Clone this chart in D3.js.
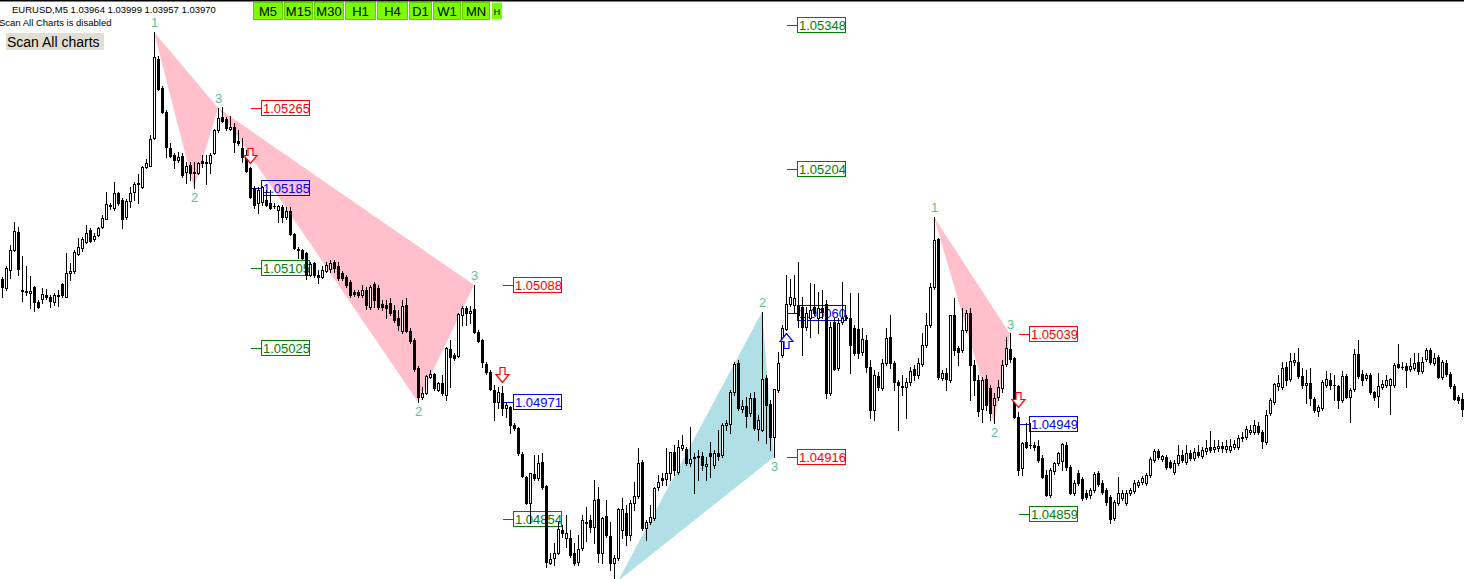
<!DOCTYPE html>
<html>
<head>
<meta charset="utf-8">
<script src="https://cdn.jsdelivr.net/npm/d3@7"></script>
<style>
  html, body { margin: 0; padding: 0; background: #fff; overflow: hidden; }
  svg { display: block; font-family: "Liberation Sans", Arial, sans-serif; }
</style>
</head>
<body>
<script>
// EURUSD M5 candles, one row per bar: [open, high, low, close]
// values are points above 1.00000 (5094 -> 1.05094)
const ohlc = [
[5094,5096,5076,5086],[5085,5107,5083,5105],[5103,5128,5095,5123],[5123,5151,5122,5142],[5141,5146,5098,5104],
[5083,5117,5072,5082],[5082,5107,5078,5081],[5080,5097,5065,5082],[5086,5087,5062,5071],[5071,5073,5065,5066],
[5074,5085,5070,5079],[5078,5084,5074,5076],[5076,5078,5066,5072],[5071,5080,5068,5078],[5078,5083,5067,5077],
[5089,5090,5076,5078],[5076,5120,5076,5100],[5100,5110,5093,5102],[5102,5123,5100,5121],[5119,5135,5118,5126],
[5125,5136,5122,5134],[5131,5148,5130,5140],[5143,5145,5131,5132],[5134,5140,5132,5137],[5138,5146,5137,5145],
[5146,5158,5145,5155],[5154,5181,5154,5169],[5168,5170,5164,5167],[5165,5191,5163,5180],[5180,5181,5168,5170],
[5173,5175,5145,5154],[5156,5174,5154,5172],[5172,5186,5166,5180],[5181,5191,5173,5189],[5189,5199,5170,5190],
[5186,5207,5185,5206],[5206,5214,5205,5210],[5207,5238,5207,5234],[5235,5341,5234,5316],[5314,5317,5283,5284],
[5285,5287,5260,5261],[5261,5263,5216,5226],[5225,5230,5216,5217],[5218,5220,5205,5213],[5213,5221,5211,5216],
[5217,5220,5196,5198],[5201,5211,5190,5207],[5208,5211,5193,5200],[5201,5211,5185,5200],[5200,5211,5199,5210],
[5212,5218,5206,5210],[5210,5218,5189,5211],[5210,5220,5200,5218],[5220,5244,5219,5243],[5243,5265,5241,5255],
[5256,5266,5251,5252],[5254,5256,5243,5245],[5244,5257,5243,5246],[5246,5250,5221,5231],[5232,5243,5228,5230],
[5225,5235,5211,5216],[5218,5223,5201,5202],[5205,5206,5175,5176],[5185,5187,5165,5168],[5170,5186,5160,5183],
[5171,5187,5168,5186],[5173,5183,5167,5168],[5170,5183,5164,5165],[5167,5170,5165,5167],[5163,5168,5151,5167],
[5166,5168,5151,5156],[5156,5166,5154,5162],[5162,5166,5138,5139],[5139,5140,5124,5125],[5124,5126,5115,5123],
[5123,5124,5114,5115],[5120,5121,5094,5098],[5098,5111,5097,5109],[5110,5111,5096,5098],[5098,5103,5090,5096],
[5096,5107,5095,5103],[5102,5111,5101,5108],[5104,5113,5101,5110],[5111,5113,5101,5105],[5107,5111,5093,5095],
[5100,5102,5093,5095],[5096,5098,5086,5088],[5091,5093,5076,5078],[5081,5083,5077,5079],[5081,5083,5076,5078],
[5078,5088,5076,5083],[5083,5086,5064,5068],[5066,5088,5064,5086],[5089,5091,5066,5073],[5085,5088,5064,5066],
[5069,5073,5063,5066],[5068,5073,5055,5065],[5070,5075,5058,5060],[5063,5068,5051,5053],[5055,5063,5043,5048],
[5042,5073,5040,5067],[5068,5075,5041,5042],[5042,5045,5030,5032],[5033,5035,5002,5004],[5005,5007,4971,4976],
[4976,4986,4974,4980],[4980,4998,4979,4997],[4996,5003,4995,4999],[4999,5000,4983,4985],[4983,4991,4982,4990],
[4990,4998,4978,4980],[4978,5026,4973,5025],[5024,5033,4986,5016],[5018,5020,5013,5015],[5017,5060,5016,5059],
[5058,5067,5048,5065],[5065,5067,5048,5060],[5060,5067,5050,5062],[5064,5088,5040,5041],[5041,5043,5031,5032],
[5033,5034,5006,5011],[5009,5011,4999,5001],[5001,5003,4983,4984],[4983,4988,4953,4971],[4971,4986,4965,4981],
[4980,4987,4958,4965],[4965,4970,4956,4968],[4966,4967,4940,4948],[4948,4950,4943,4945],[4945,4946,4918,4920],
[4919,4921,4896,4897],[4896,4897,4869,4870],[4870,4900,4850,4900],[4899,4918,4893,4895],[4895,4918,4893,4910],
[4911,4920,4884,4886],[4887,4888,4806,4811],[4810,4820,4809,4814],[4815,4830,4808,4820],[4820,4851,4819,4844],
[4843,4848,4836,4840],[4835,4858,4826,4840],[4835,4843,4816,4818],[4820,4830,4808,4810],[4811,4838,4808,4824],
[4825,4858,4823,4853],[4851,4866,4832,4850],[4853,4858,4841,4846],[4846,4893,4830,4873],[4874,4886,4811,4820],
[4820,4856,4810,4855],[4857,4873,4836,4838],[4837,4851,4803,4810],[4810,4818,4795,4815],[4815,4865,4813,4864],
[4843,4875,4835,4864],[4860,4868,4828,4838],[4838,4873,4833,4870],[4870,4891,4863,4877],[4877,4925,4875,4910],
[4911,4913,4843,4845],[4845,4853,4833,4851],[4851,4868,4849,4856],[4855,4886,4853,4885],[4886,4898,4883,4891],
[4895,4900,4888,4893],[4894,4925,4888,4900],[4900,4918,4893,4921],[4921,4928,4898,4903],[4901,4933,4899,4926],
[4925,4938,4923,4928],[4924,4926,4908,4910],[4910,4946,4907,4914],[4915,4920,4880,4916],[4916,4923,4893,4917],
[4917,4921,4903,4908],[4907,4916,4893,4909],[4920,4931,4896,4917],[4908,4923,4905,4920],[4920,4943,4913,4917],
[4918,4950,4916,4948],[4948,4953,4943,4950],[4949,4983,4940,4981],[4981,5011,4978,5009],[5010,5013,4963,4965],
[4964,4973,4961,4967],[4967,4976,4946,4957],[4960,4980,4957,4975],[4975,4981,4943,4945],[4944,4958,4933,4953],
[4943,5061,4942,4994],[4995,4998,4930,4968],[4969,4973,4923,4936],[4936,4983,4916,4984],[4983,5021,4981,5010],
[5018,5048,5016,5045],[5044,5098,5043,5069],[5069,5094,5067,5076],[5068,5098,5060,5075],[5067,5111,5046,5058],
[5066,5076,5018,5046],[5046,5066,5043,5060],[5055,5090,5036,5063],[5066,5089,5058,5060],[5055,5081,5040,5065],
[5065,5083,5055,5061],[5069,5073,4975,4980],[4980,5051,4978,5046],[5051,5055,5003,5004],[5005,5055,5003,5050],
[5051,5091,5049,5055],[5055,5058,5053,5056],[5055,5080,5000,5028],[5045,5048,5018,5020],[5044,5080,5015,5020],
[5021,5045,5018,5034],[5033,5038,5001,5006],[5006,5013,4955,4963],[4963,5003,4953,4998],[4997,5001,4983,4986],
[4985,5014,4983,5010],[5010,5045,5008,5035],[5036,5058,5005,5010],[5010,5012,4983,4991],[4991,4993,4943,4988],
[4986,4998,4978,4987],[4986,4995,4955,4991],[4991,5006,4988,5002],[5004,5008,4993,4998],[4998,5015,4995,5010],
[5009,5040,5007,5028],[5028,5060,5026,5048],[5048,5090,5046,5086],[5086,5156,5084,5133],[5134,5135,4994,4996],
[4995,5003,4993,5000],[5000,5005,4983,4994],[4993,5058,4991,5058],[5058,5075,5018,5023],[5025,5027,5008,5021],
[5023,5065,5021,5043],[5043,5063,5041,5060],[5060,5065,4973,5008],[5008,5013,4978,4993],[4993,4998,4957,4962],
[4964,4996,4951,4993],[4994,4998,4963,4968],[4985,4988,4953,4960],[4968,4980,4950,4975],[4976,4993,4973,4986],
[4985,5013,4981,5008],[5009,5036,5007,5025],[5024,5040,5011,5014],[5015,5016,4955,4956],[4956,4961,4898,4903],
[4905,4931,4898,4930],[4931,4950,4925,4926],[4928,4950,4925,4928],[4928,4931,4923,4926],[4927,4933,4911,4913],
[4915,4918,4895,4896],[4898,4903,4877,4878],[4878,4905,4876,4903],[4902,4911,4899,4910],[4910,4921,4908,4920],
[4912,4930,4903,4929],[4928,4931,4903,4906],[4906,4908,4879,4880],[4880,4893,4878,4890],[4900,4903,4888,4890],
[4894,4896,4873,4875],[4880,4883,4874,4876],[4878,4885,4875,4883],[4883,4901,4881,4899],[4900,4902,4887,4889],
[4890,4893,4879,4881],[4883,4885,4868,4871],[4876,4878,4850,4854],[4855,4873,4853,4871],[4870,4896,4868,4880],
[4875,4883,4873,4880],[4870,4883,4868,4880],[4880,4885,4878,4883],[4882,4893,4880,4890],[4888,4893,4886,4891],
[4891,4897,4889,4895],[4890,4900,4888,4898],[4898,4916,4896,4914],[4913,4924,4911,4922],[4922,4924,4914,4916],
[4914,4918,4912,4917],[4916,4918,4904,4906],[4911,4913,4905,4906],[4901,4913,4899,4910],[4910,4928,4908,4918],
[4918,4923,4911,4913],[4911,4928,4909,4920],[4920,4923,4913,4915],[4915,4925,4913,4921],[4921,4928,4916,4918],
[4917,4926,4915,4923],[4922,4933,4919,4925],[4926,4942,4921,4923],[4924,4933,4921,4926],[4925,4933,4922,4927],
[4927,4931,4921,4925],[4924,4933,4921,4927],[4923,4934,4921,4927],[4926,4933,4924,4929],[4926,4938,4924,4935],
[4935,4941,4932,4936],[4936,4947,4934,4944],[4941,4948,4939,4943],[4941,4953,4939,4948],[4947,4951,4939,4941],
[4941,4943,4925,4932],[4931,4963,4929,4958],[4960,4975,4958,4973],[4971,4990,4969,4989],[4987,4998,4983,4990],
[4986,5011,4984,5005],[5006,5011,4988,4993],[4994,5020,4992,5012],[5011,5020,5008,5013],[5011,5025,4995,4997],
[4997,5005,4985,4988],[4988,5003,4970,4990],[4990,5005,4968,4975],[4974,4976,4961,4963],[4962,4968,4957,4966],
[4965,4993,4963,4991],[4988,5002,4986,4994],[4993,5000,4984,4988],[4988,4998,4973,4988],[4987,4988,4965,4973],
[4973,5002,4971,4997],[4997,4999,4975,4976],[4976,4985,4951,4983],[4984,5024,4982,5019],[5019,5033,4995,4997],
[4999,5003,4988,4993],[4995,5000,4993,4998],[4998,5000,4979,4981],[4981,4982,4973,4976],[4977,5000,4966,4987],
[4986,4993,4984,4989],[4988,4998,4986,4993],[4988,4995,4959,4994],[4988,5010,4986,5008],[5009,5029,5005,5006],
[5006,5011,5004,5006],[5007,5010,4986,5003],[5004,5015,5002,5007],[5005,5020,5003,5010],[5011,5020,4999,5002],
[5002,5016,5000,5011],[5014,5025,5012,5023],[5023,5025,5009,5011],[5010,5020,5008,5015],[5016,5018,4995,4996],
[4996,5013,4994,5011],[5010,5013,4997,4999],[4999,5001,4985,4987],[4987,4989,4973,4974],[4976,4978,4970,4973],
[4974,4980,4957,4964]
];
const PT = 1e-5;

// harmonic triangles: vertices as [bar, price]
const triPink1 = [[38, 1.05341], [48, 1.05185], [54, 1.05265]];
const triPink2 = [[54, 1.05265], [104, 1.04971], [118, 1.05088]];
const triBlue = [[154, 1.04792], [190, 1.05061], [193, 1.04916]];
const triPink3 = [[233, 1.05156], [248, 1.04950], [252, 1.05039]];

// vertex numbers shown on the chart: [bar, price, text, above?]
const vertexLabels = [
  [38, 1.05341, "1", true], [48, 1.05185, "2", false], [54, 1.05265, "3", true],
  [104, 1.04971, "2", false], [118, 1.05088, "3", true],
  [190, 1.05061, "2", true], [193, 1.04916, "3", false],
  [233, 1.05156, "1", true], [248, 1.04950, "2", false], [252, 1.05039, "3", true]
];

// signal arrows: [bar, tip price, direction]
const arrows = [[62, 1.05210, "down"], [125, 1.04991, "down"], [196, 1.05040, "up"], [254, 1.04966, "down"]];

// price level boxes: [signal bar, price, kind]
const levels = [
  [62, 1.05265, "stop"], [62, 1.05185, "entry"], [62, 1.05105, "target"], [62, 1.05025, "target"],
  [125, 1.05088, "stop"], [125, 1.04971, "entry"], [125, 1.04854, "target"],
  [196, 1.05348, "target"], [196, 1.05204, "target"], [196, 1.05060, "entry"], [196, 1.04916, "stop"],
  [254, 1.05039, "stop"], [254, 1.04949, "entry"], [254, 1.04859, "target"]
];

const timeframes = ["M5", "M15", "M30", "H1", "H4", "D1", "W1", "MN"];
const tfWidths = [30, 29, 30, 31, 31, 23, 28, 28];

const W = 1464, H = 579;
const kindColor = { stop: "#ff0000", entry: "#0000ff", target: "#008000" };

const svg = d3.select("body").append("svg")
  .attr("width", W)
  .attr("height", H);

const x = d3.scaleLinear().domain([0, ohlc.length - 1]).range([2, 2 + 4 * (ohlc.length - 1)]);
const y = d3.scaleLinear().domain([1.04794, 1.05373]).range([579, 0]);
const px = v => Math.round(x(v));
const py = v => Math.round(y(v));

const bars = ohlc.map((r, i) => ({ i, o: 1 + r[0] * PT, h: 1 + r[1] * PT, l: 1 + r[2] * PT, c: 1 + r[3] * PT }));

// triangles
const tri = svg.append("g");
[[triPink1, "#ffc0cb"], [triPink2, "#ffc0cb"], [triBlue, "#b0e0e6"], [triPink3, "#ffc0cb"]].forEach(([pts, col]) => {
  tri.append("path")
    .attr("d", "M" + pts.map(p => [x(p[0]), y(p[1])].join(",")).join("L") + "Z")
    .attr("fill", col);
});

// level boxes (drawn under the candles)
const lv = svg.append("g");
levels.forEach(([bar, price, kind]) => {
  const x0 = px(bar), yy = py(price), col = kindColor[kind];
  lv.append("line")
    .attr("x1", x0 + 1).attr("x2", x0 + 11)
    .attr("y1", yy + 0.5).attr("y2", yy + 0.5)
    .attr("stroke", col);
  lv.append("rect")
    .attr("x", x0 + 11.5).attr("y", yy - 7.5)
    .attr("width", 48).attr("height", 15)
    .attr("fill", "none").attr("stroke", col);
  lv.append("text")
    .attr("x", x0 + 13).attr("y", yy + 5)
    .attr("font-size", 13)
    .attr("fill", col)
    .text(price.toFixed(5));
});

// candles
const cg = svg.append("g").attr("shape-rendering", "crispEdges");
bars.forEach(d => {
  const cx = px(d.i);
  const yh = py(d.h), yl = py(d.l), yo = py(d.o), yc = py(d.c);
  cg.append("rect").attr("x", cx).attr("y", yh).attr("width", 1).attr("height", yl - yh + 1).attr("fill", "#000");
  if (d.c < d.o) {
    cg.append("rect").attr("x", cx - 1).attr("y", yo).attr("width", 3).attr("height", Math.max(1, yc - yo + 1)).attr("fill", "#000");
  } else if (yc === yo) {
    cg.append("rect").attr("x", cx - 1).attr("y", yo).attr("width", 3).attr("height", 1).attr("fill", "#000");
  } else {
    cg.append("rect").attr("x", cx - 0.5).attr("y", yc + 0.5).attr("width", 2).attr("height", yo - yc)
      .attr("fill", "#fff").attr("stroke", "#000");
  }
});

// arrows: hollow block arrows, tip at the given price
const arrowShape = [[-2.5, 15], [2.5, 15], [2.5, 8], [6.5, 8], [0, 0], [-6.5, 8], [-2.5, 8]];
arrows.forEach(([bar, price, dir]) => {
  const cx = x(bar) + 0.5, ty = py(price) + 0.5;
  const sgn = dir === "down" ? -1 : 1;
  const pts = arrowShape.map(p => [cx + p[0], ty + sgn * p[1]]);
  svg.append("path")
    .attr("d", "M" + pts.map(p => p.join(",")).join("L") + "Z")
    .attr("fill", "#fff")
    .attr("stroke", dir === "down" ? "#ff0000" : "#0000ff")
    .attr("stroke-width", 1.2);
});

// vertex numbers
vertexLabels.forEach(([bar, price, t, above]) => {
  svg.append("text")
    .attr("x", x(bar) + 0.5)
    .attr("y", above ? y(price) - 5 : y(price) + 14)
    .attr("text-anchor", "middle")
    .attr("font-size", 13)
    .attr("fill", "#5cc195")
    .text(t);
});

// header
svg.append("rect").attr("x", 0).attr("y", 0).attr("width", W).attr("height", 1.5).attr("fill", "#000");
svg.append("text").attr("x", 12).attr("y", 13).attr("font-size", 9.5).attr("fill", "#000")
  .text("EURUSD,M5  1.03964 1.03999 1.03957 1.03970");
svg.append("text").attr("x", -1).attr("y", 26).attr("font-size", 9.5).attr("fill", "#000")
  .text("Scan All Charts is disabled");
svg.append("rect").attr("x", 6).attr("y", 33).attr("width", 98).attr("height", 17).attr("fill", "#e2ded2");
svg.append("text").attr("x", 7).attr("y", 47).attr("font-size", 14).attr("fill", "#000").text("Scan All charts");

// timeframe buttons
let bx = 253;
timeframes.forEach((tf, k) => {
  svg.append("rect").attr("x", bx + 0.5).attr("y", 2.5).attr("width", tfWidths[k] - 1).attr("height", 17)
    .attr("fill", "#7cfc00").attr("stroke", "#5ed000");
  svg.append("text").attr("x", bx + tfWidths[k] / 2).attr("y", 16).attr("text-anchor", "middle")
    .attr("font-size", 13).attr("fill", "#000").text(tf);
  bx += tfWidths[k] + 1;
});
svg.append("rect").attr("x", 492).attr("y", 2.5).attr("width", 10).attr("height", 17).attr("fill", "#7cfc00");
svg.append("text").attr("x", 497).attr("y", 15).attr("text-anchor", "middle").attr("font-size", 9).text("H");
</script>
</body>
</html>
